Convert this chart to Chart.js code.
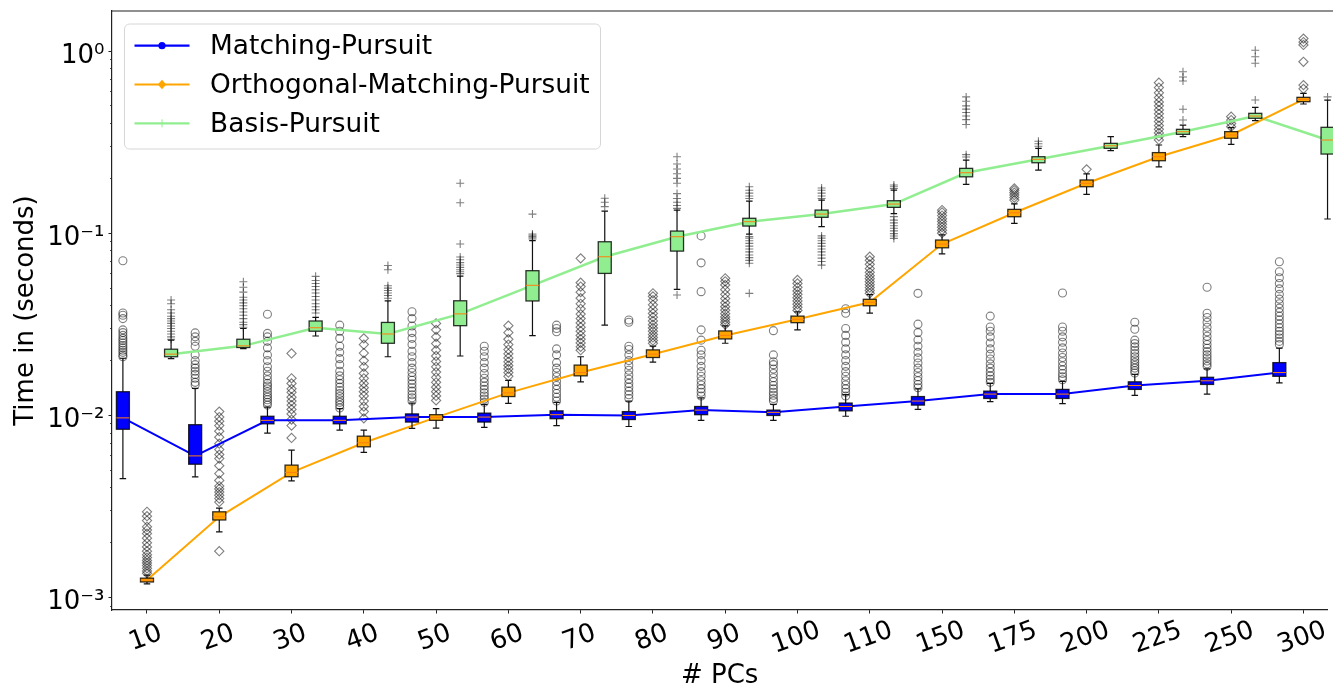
<!DOCTYPE html>
<html lang="en">
<head>
<meta charset="UTF-8">
<script src="https://cdn.jsdelivr.net/npm/chart.js"></script>
<title>Time per # PCs</title>
<style>
  html, body { margin: 0; padding: 0; background: #fff; }
</style>
</head>
<body>
<canvas id="myChart" width="1333" height="685"></canvas>
<script>
// ---- data ----
const categories = ['10','20','30','40','50','60','70','80','90','100','110','150','175','200','225','250','300'];
const seriesNames = ['Matching-Pursuit', 'Orthogonal-Matching-Pursuit', 'Basis-Pursuit'];
const yTickValues = [0.001, 0.01, 0.1, 1];
const yTickLabels = ['10⁻³', '10⁻²', '10⁻¹', '10⁰'];

// Matching-Pursuit
const mpMedian = [0.0097, 0.0060, 0.0094, 0.0094, 0.0098, 0.0098, 0.0101, 0.0100, 0.0107, 0.0104, 0.0112, 0.0120, 0.0131, 0.0131, 0.0146, 0.0155, 0.0172];
const mpQ1     = [0.0084, 0.0054, 0.0090, 0.0090, 0.0092, 0.0092, 0.0096, 0.0095, 0.0101, 0.0100, 0.0106, 0.0114, 0.0124, 0.0124, 0.0139, 0.0148, 0.0164];
const mpQ3     = [0.0135, 0.0089, 0.0099, 0.0099, 0.0102, 0.0103, 0.0106, 0.0105, 0.0112, 0.0107, 0.0117, 0.0127, 0.0136, 0.0139, 0.0153, 0.0162, 0.0195];
const mpLow    = [0.0045, 0.0046, 0.0080, 0.0083, 0.0085, 0.0086, 0.0088, 0.0087, 0.0094, 0.0094, 0.0099, 0.0108, 0.0119, 0.0116, 0.0129, 0.0131, 0.0151];
const mpHigh   = [0.0206, 0.0141, 0.0111, 0.0109, 0.0117, 0.0115, 0.0118, 0.0120, 0.0125, 0.0115, 0.0130, 0.0140, 0.0150, 0.0154, 0.0168, 0.0180, 0.0234];
const mpOutliers = [
  [0.0210, 0.0215, 0.0222, 0.0228, 0.0235, 0.0242, 0.0250, 0.0258, 0.0265, 0.0275, 0.0285, 0.0295, 0.0340, 0.0355, 0.0365, 0.0706],
  [0.0147, 0.0152, 0.0160, 0.0168, 0.0175, 0.0182, 0.0190, 0.0200, 0.0215, 0.0240, 0.0255, 0.0270, 0.0284],
  [0.0114, 0.0118, 0.0122, 0.0126, 0.0130, 0.0135, 0.0140, 0.0145, 0.0150, 0.0157, 0.0165, 0.0175, 0.0185, 0.0200, 0.0215, 0.0235, 0.0255, 0.0270, 0.0282, 0.0359],
  [0.0110, 0.0114, 0.0118, 0.0122, 0.0127, 0.0132, 0.0137, 0.0143, 0.0150, 0.0157, 0.0165, 0.0175, 0.0190, 0.0205, 0.0222, 0.0240, 0.0265, 0.0290, 0.0313],
  [0.0120, 0.0125, 0.0130, 0.0136, 0.0142, 0.0149, 0.0156, 0.0163, 0.0172, 0.0182, 0.0195, 0.0210, 0.0225, 0.0245, 0.0265, 0.0285, 0.0310, 0.0340, 0.0371],
  [0.0118, 0.0123, 0.0128, 0.0133, 0.0139, 0.0145, 0.0152, 0.0160, 0.0170, 0.0182, 0.0195, 0.0210, 0.0225, 0.0240],
  [0.0120, 0.0126, 0.0132, 0.0139, 0.0146, 0.0154, 0.0163, 0.0172, 0.0182, 0.0195, 0.0215, 0.0232, 0.0288, 0.0300, 0.0313],
  [0.0124, 0.0130, 0.0136, 0.0143, 0.0150, 0.0158, 0.0167, 0.0177, 0.0188, 0.0200, 0.0215, 0.0230, 0.0240, 0.0325, 0.0334],
  [0.0128, 0.0134, 0.0140, 0.0147, 0.0155, 0.0164, 0.0174, 0.0186, 0.0200, 0.0215, 0.0228, 0.0259, 0.0295, 0.0478, 0.0688, 0.0967],
  [0.0120, 0.0124, 0.0129, 0.0134, 0.0140, 0.0146, 0.0153, 0.0161, 0.0170, 0.0180, 0.0190, 0.0197, 0.0215, 0.0292],
  [0.0128, 0.0134, 0.0140, 0.0147, 0.0155, 0.0164, 0.0174, 0.0186, 0.0200, 0.0215, 0.0232, 0.0252, 0.0275, 0.0300, 0.0364, 0.0385],
  [0.0142, 0.0148, 0.0155, 0.0163, 0.0172, 0.0182, 0.0194, 0.0207, 0.0222, 0.0240, 0.0260, 0.0285, 0.0317, 0.0468],
  [0.0152, 0.0158, 0.0165, 0.0173, 0.0182, 0.0192, 0.0204, 0.0217, 0.0232, 0.0250, 0.0270, 0.0290, 0.0306, 0.0351],
  [0.0157, 0.0163, 0.0170, 0.0178, 0.0187, 0.0197, 0.0208, 0.0220, 0.0235, 0.0252, 0.0270, 0.0290, 0.0306, 0.0470],
  [0.0171, 0.0176, 0.0182, 0.0188, 0.0195, 0.0202, 0.0210, 0.0219, 0.0228, 0.0238, 0.0248, 0.0259, 0.0297, 0.0325],
  [0.0186, 0.0192, 0.0199, 0.0207, 0.0215, 0.0224, 0.0234, 0.0245, 0.0258, 0.0272, 0.0288, 0.0305, 0.0325, 0.0345, 0.0364, 0.0505],
  [0.0245, 0.0255, 0.0266, 0.0278, 0.0290, 0.0303, 0.0318, 0.0334, 0.0350, 0.0368, 0.0388, 0.0410, 0.0435, 0.0462, 0.0495, 0.0530, 0.0570, 0.0615, 0.0698]
];

// Orthogonal-Matching-Pursuit
const ompMedian = [0.00125, 0.00278, 0.00487, 0.00708, 0.00976, 0.0133, 0.0172, 0.0217, 0.0275, 0.0337, 0.0418, 0.0872, 0.1296, 0.188, 0.263, 0.346, 0.543];
const ompQ1     = [0.00122, 0.00267, 0.00461, 0.00673, 0.0094, 0.0127, 0.0165, 0.0208, 0.0263, 0.0323, 0.0400, 0.0832, 0.1232, 0.180, 0.250, 0.332, 0.527];
const ompQ3     = [0.00128, 0.00296, 0.00534, 0.0077, 0.0101, 0.0143, 0.0189, 0.0229, 0.0291, 0.0351, 0.0434, 0.0918, 0.1352, 0.196, 0.277, 0.361, 0.557];
const ompLow    = [0.00119, 0.00230, 0.00438, 0.00627, 0.00852, 0.01165, 0.0153, 0.0196, 0.0249, 0.0295, 0.0364, 0.0770, 0.1133, 0.1635, 0.2316, 0.3076, 0.512];
const ompHigh   = [0.00133, 0.00310, 0.00646, 0.0083, 0.0109, 0.0156, 0.0210, 0.0240, 0.0310, 0.0370, 0.0460, 0.0980, 0.145, 0.2115, 0.305, 0.380, 0.586];
const ompOutliers = [
  [0.00136, 0.00140, 0.00145, 0.00150, 0.00155, 0.00160, 0.00166, 0.00172, 0.00180, 0.00190, 0.00200, 0.00212, 0.00225, 0.00235, 0.00245, 0.00265, 0.00280, 0.00296],
  [0.00180, 0.00335, 0.00350, 0.00365, 0.00380, 0.00395, 0.00410, 0.00440, 0.00480, 0.00530, 0.00580, 0.00610, 0.00650, 0.00700, 0.00760, 0.00820, 0.00880, 0.00930, 0.00980, 0.01050],
  [0.00753, 0.00880, 0.00950, 0.01020, 0.01080, 0.01140, 0.01200, 0.01260, 0.01340, 0.01400, 0.01500, 0.01600, 0.02190],
  [0.00964, 0.01050, 0.01120, 0.01200, 0.01280, 0.01350, 0.01420, 0.01500, 0.01600, 0.01700, 0.01850, 0.02000, 0.02200, 0.02450, 0.02650],
  [0.0121, 0.0128, 0.0135, 0.0143, 0.0152, 0.0162, 0.0173, 0.0185, 0.0198, 0.0212, 0.0228, 0.0248, 0.0270, 0.0295, 0.0320],
  [0.0164, 0.0172, 0.0180, 0.0188, 0.0197, 0.0207, 0.0218, 0.0230, 0.0245, 0.0262, 0.0285, 0.0311],
  [0.0228, 0.0238, 0.0250, 0.0262, 0.0275, 0.0290, 0.0305, 0.0322, 0.0340, 0.0360, 0.0385, 0.0410, 0.0440, 0.0475, 0.0510, 0.0535, 0.0728],
  [0.0249, 0.0258, 0.0268, 0.0278, 0.0290, 0.0302, 0.0315, 0.0330, 0.0346, 0.0363, 0.0382, 0.0405, 0.0430, 0.0450, 0.0468],
  [0.0315, 0.0325, 0.0336, 0.0347, 0.0362, 0.0378, 0.0395, 0.0415, 0.0438, 0.0462, 0.0490, 0.0520, 0.0545, 0.0566],
  [0.0377, 0.0392, 0.0408, 0.0425, 0.0443, 0.0462, 0.0482, 0.0505, 0.0530, 0.0554],
  [0.0468, 0.0485, 0.0503, 0.0522, 0.0542, 0.0563, 0.0585, 0.0610, 0.0640, 0.0675, 0.0710, 0.0743],
  [0.1000, 0.1040, 0.1080, 0.1120, 0.1160, 0.1200, 0.1250, 0.1300, 0.1340],
  [0.152, 0.157, 0.162, 0.167, 0.172, 0.176],
  [0.2242],
  [0.325, 0.340, 0.355, 0.372, 0.390, 0.410, 0.430, 0.452, 0.475, 0.500, 0.525, 0.555, 0.590, 0.630, 0.670],
  [0.384, 0.400, 0.418, 0.436],
  [0.620, 0.650, 0.873, 1.08, 1.12, 1.17]
];

// Basis-Pursuit
const bpMedian = [0.0217, 0.0241, 0.0303, 0.0280, 0.0361, 0.0518, 0.0743, 0.0957, 0.1157, 0.1274, 0.1446, 0.2148, 0.2545, 0.302, 0.3606, 0.4396, 0.3247];
const bpQ1     = [0.0210, 0.0236, 0.0290, 0.0249, 0.0311, 0.0425, 0.0602, 0.0798, 0.1095, 0.1223, 0.1387, 0.204, 0.2437, 0.2924, 0.349, 0.4274, 0.272];
const bpQ3     = [0.0231, 0.0262, 0.0330, 0.0324, 0.0426, 0.0623, 0.0898, 0.1028, 0.1208, 0.134, 0.1508, 0.227, 0.263, 0.3114, 0.3717, 0.455, 0.3813];
const bpLow    = [0.0205, 0.0233, 0.0273, 0.0210, 0.0212, 0.0274, 0.0313, 0.0492, 0.0990, 0.1086, 0.1280, 0.1855, 0.222, 0.284, 0.339, 0.415, 0.1197];
const bpHigh   = [0.0259, 0.0300, 0.0345, 0.0425, 0.0582, 0.091, 0.1324, 0.134, 0.150, 0.152, 0.1726, 0.252, 0.292, 0.339, 0.3925, 0.49, 0.538];
const bpOutliers = [
  [0.0262, 0.0270, 0.0280, 0.0290, 0.0300, 0.0310, 0.0320, 0.0330, 0.0340, 0.0350, 0.0365, 0.0380, 0.0410, 0.0430],
  [0.0305, 0.0315, 0.0325, 0.0340, 0.0355, 0.0370, 0.0385, 0.0400, 0.0415, 0.0430, 0.0445, 0.0475, 0.0505, 0.0542],
  [0.0365, 0.0380, 0.0395, 0.0410, 0.0430, 0.0450, 0.0470, 0.0490, 0.0510, 0.0530, 0.0550, 0.0580],
  [0.0440, 0.0455, 0.0470, 0.0485, 0.0500, 0.0515, 0.0630, 0.0665],
  [0.0600, 0.0615, 0.0630, 0.0650, 0.0670, 0.0690, 0.0715, 0.0740, 0.0873, 0.147, 0.188],
  [0.0930, 0.0945, 0.0960, 0.0975, 0.0990, 0.1274],
  [0.140, 0.148, 0.1555],
  [0.0458, 0.137, 0.142, 0.148, 0.155, 0.165, 0.188, 0.200, 0.212, 0.225, 0.240, 0.263],
  [0.0468, 0.0685, 0.0710, 0.0735, 0.0760, 0.0790, 0.0820, 0.0850, 0.0880, 0.0910, 0.0940, 0.0960, 0.155, 0.160, 0.166, 0.172, 0.180],
  [0.0668, 0.0700, 0.0730, 0.0760, 0.0790, 0.0820, 0.0850, 0.0880, 0.0910, 0.0940, 0.0967, 0.155, 0.160, 0.166, 0.172, 0.177],
  [0.0937, 0.0965, 0.0995, 0.1030, 0.1065, 0.1100, 0.1140, 0.1180, 0.1234, 0.176, 0.180, 0.184],
  [0.262, 0.270, 0.395, 0.420, 0.440, 0.460, 0.480, 0.500, 0.530, 0.560],
  [0.300, 0.310, 0.320],
  [],
  [0.418, 0.479, 0.684, 0.720, 0.770],
  [0.538, 0.856, 0.930, 1.010],
  [0.560, 0.580, 0.600, 0.620, 0.640]
];

// ---- styling ----
const FONT = 'DejaVu Sans';
const yMin = 0.000856, yMax = 1.658;
const series = [
  { color: '#0000ff', shift: -1/3, marker: 'circle',  size: 4,   med: mpMedian,  q1: mpQ1,  q3: mpQ3,  lo: mpLow,  hi: mpHigh,  out: mpOutliers },
  { color: '#ffa500', shift: 0,    marker: 'rectRot', size: 4.6, med: ompMedian, q1: ompQ1, q3: ompQ3, lo: ompLow, hi: ompHigh, out: ompOutliers },
  { color: '#90ee90', shift: 1/3,  marker: 'cross',   size: 4,   med: bpMedian,  q1: bpQ1,  q3: bpQ3,  lo: bpLow,  hi: bpHigh,  out: bpOutliers }
];

// minor log ticks 2..9 x 10^n inside the axis range
const yMinorTicks = [];
for (let e = -4; e <= 0; e++) {
  for (let m = 2; m <= 9; m++) {
    const v = m * Math.pow(10, e);
    if (v > yMin && v < yMax) yMinorTicks.push(v);
  }
}

const datasets = [];
series.forEach((s, k) => {
  datasets.push({
    type: 'line',
    label: seriesNames[k],
    data: s.med.map((v, i) => ({ x: i + s.shift, y: v })),
    borderColor: s.color,
    borderWidth: k === 2 ? 2.5 : 2,
    pointRadius: 0,
    tension: 0,
    clip: false
  });
});
series.forEach((s, k) => {
  const pts = [];
  s.out.forEach((arr, i) => arr.forEach(v => pts.push({ x: i + s.shift, y: v })));
  datasets.push({
    type: 'scatter',
    label: seriesNames[k] + ' outliers',
    data: pts,
    pointStyle: s.marker,
    pointRadius: s.size,
    borderWidth: 1.1,
    borderColor: 'rgba(0,0,0,0.5)',
    backgroundColor: 'rgba(0,0,0,0)',
    showLine: false,
    clip: false
  });
});

// boxes + whiskers, placed through the chart scales
const boxPlugin = {
  id: 'boxes',
  afterDatasetsDraw(chart) {
    const { ctx } = chart;
    const x = chart.scales.x, y = chart.scales.y;
    const slot = x.getPixelForValue(1) - x.getPixelForValue(0);
    const bw = slot * 0.18;
    ctx.save();
    series.forEach(s => {
      categories.forEach((c, i) => {
        const cx = x.getPixelForValue(i + s.shift);
        const pq1 = y.getPixelForValue(s.q1[i]);
        const pq3 = y.getPixelForValue(s.q3[i]);
        const pmed = y.getPixelForValue(s.med[i]);
        const plo = y.getPixelForValue(s.lo[i]);
        const phi = y.getPixelForValue(s.hi[i]);
        ctx.strokeStyle = '#111';
        ctx.lineWidth = 1.2;
        ctx.beginPath();
        ctx.moveTo(cx, pq1); ctx.lineTo(cx, plo);
        ctx.moveTo(cx, pq3); ctx.lineTo(cx, phi);
        ctx.moveTo(cx - bw / 4, plo); ctx.lineTo(cx + bw / 4, plo);
        ctx.moveTo(cx - bw / 4, phi); ctx.lineTo(cx + bw / 4, phi);
        ctx.stroke();
        ctx.fillStyle = s.color;
        ctx.fillRect(cx - bw / 2, pq3, bw, pq1 - pq3);
        ctx.strokeStyle = 'rgba(0,0,0,0.8)';
        ctx.lineWidth = 1.3;
        ctx.strokeRect(cx - bw / 2, pq3, bw, pq1 - pq3);
        ctx.strokeStyle = '#ff7f0e';
        ctx.lineWidth = 1;
        ctx.beginPath();
        ctx.moveTo(cx - bw / 2, pmed); ctx.lineTo(cx + bw / 2, pmed);
        ctx.stroke();
      });
    });
    ctx.restore();
  }
};

// top spine + legend box in the upper left of the plot
const framePlugin = {
  id: 'frame',
  afterDraw(chart) {
    const { ctx, chartArea: a } = chart;
    ctx.save();
    ctx.strokeStyle = '#222';
    ctx.lineWidth = 1.2;
    ctx.beginPath();
    ctx.moveTo(a.left, a.top); ctx.lineTo(chart.width, a.top);
    ctx.stroke();

    const bx = a.left + 12.5, by = a.top + 13, bwid = 476, bh = 125, r = 5;
    ctx.beginPath();
    ctx.moveTo(bx + r, by);
    ctx.arcTo(bx + bwid, by, bx + bwid, by + bh, r);
    ctx.arcTo(bx + bwid, by + bh, bx, by + bh, r);
    ctx.arcTo(bx, by + bh, bx, by, r);
    ctx.arcTo(bx, by, bx + bwid, by, r);
    ctx.closePath();
    ctx.fillStyle = 'rgba(255,255,255,0.8)';
    ctx.fill();
    ctx.strokeStyle = '#d6d6d6';
    ctx.lineWidth = 1;
    ctx.stroke();

    ctx.font = '26.4px "' + FONT + '"';
    ctx.textBaseline = 'middle';
    ctx.textAlign = 'left';
    series.forEach((s, k) => {
      const ly = by + 21.7 + k * 38.8;
      const mx = bx + 37.5;
      ctx.strokeStyle = s.color;
      ctx.lineWidth = 2.2;
      ctx.beginPath();
      ctx.moveTo(bx + 10, ly); ctx.lineTo(bx + 65, ly);
      ctx.stroke();
      ctx.fillStyle = s.color;
      if (s.marker === 'circle') {
        ctx.beginPath(); ctx.arc(mx, ly, 3.6, 0, Math.PI * 2); ctx.fill();
      } else if (s.marker === 'rectRot') {
        ctx.beginPath();
        ctx.moveTo(mx, ly - 4.8); ctx.lineTo(mx + 4.2, ly); ctx.lineTo(mx, ly + 4.8); ctx.lineTo(mx - 4.2, ly);
        ctx.closePath(); ctx.fill();
      } else {
        ctx.lineWidth = 1;
        ctx.beginPath();
        ctx.moveTo(mx, ly - 4); ctx.lineTo(mx, ly + 4);
        ctx.stroke();
      }
      ctx.fillStyle = '#000';
      ctx.fillText(seriesNames[k], bx + 85.6, ly + 1.5);
    });
    ctx.restore();
  }
};

const tickFont = { family: FONT, size: 26, lineHeight: 1 };

new Chart(document.getElementById('myChart'), {
  type: 'line',
  data: { datasets: datasets },
  plugins: [boxPlugin, framePlugin],
  options: {
    responsive: false,
    animation: false,
    layout: { padding: { top: 11, right: 0, bottom: 0, left: 0 } },
    plugins: { legend: { display: false }, tooltip: { enabled: false } },
    scales: {
      x: {
        type: 'linear',
        min: -0.484,
        max: 16.33,
        afterBuildTicks: s => { s.ticks = categories.map((c, i) => ({ value: i })); },
        afterFit: s => { s.height = 75; s.paddingLeft = 0; s.paddingRight = 0; },
        ticks: {
          callback: v => {
            const t = categories[v];
            return t.length < 3 ? t + ' ' : t;
          },
          autoSkip: false,
          minRotation: 20,
          maxRotation: 20,
          labelOffset: 22,
          padding: 4,
          color: '#000',
          font: tickFont
        },
        grid: { drawOnChartArea: false, tickLength: 3.5, tickColor: '#222', tickWidth: 1 },
        border: { color: '#222', width: 1.2 },
        title: {
          display: true, text: '# PCs', color: '#000',
          font: { family: FONT, size: 26, lineHeight: 1 },
          padding: { top: 0, bottom: -4 }
        }
      },
      y: {
        type: 'logarithmic',
        min: yMin,
        max: yMax,
        afterBuildTicks: s => { s.ticks = yTickValues.map(v => ({ value: v, major: true })); },
        afterFit: s => { s.width = 112; s.paddingTop = 0; s.paddingBottom = 0; },
        ticks: {
          callback: v => {
            const k = yTickValues.indexOf(v);
            return k >= 0 ? yTickLabels[k] : '';
          },
          padding: 4,
          labelOffset: 5,
          color: '#000',
          font: tickFont
        },
        grid: { drawOnChartArea: false, tickLength: 3.5, tickColor: '#222', tickWidth: 1 },
        border: { color: '#222', width: 1.2 },
        title: {
          display: true, text: 'Time in (seconds)', color: '#000',
          font: { family: FONT, size: 26, lineHeight: 1 },
          padding: { top: 13, bottom: 0 }
        }
      },
      yMinor: {
        type: 'logarithmic',
        position: 'left',
        weight: -1,
        min: yMin,
        max: yMax,
        afterBuildTicks: s => { s.ticks = yMinorTicks.map(v => ({ value: v })); },
        afterFit: s => { s.width = 0; s.paddingTop = 0; s.paddingBottom = 0; },
        ticks: { display: false },
        grid: { drawOnChartArea: false, tickLength: 2, tickColor: '#222', tickWidth: 0.8 },
        border: { display: false }
      }
    }
  }
});
</script>
</body>
</html>
